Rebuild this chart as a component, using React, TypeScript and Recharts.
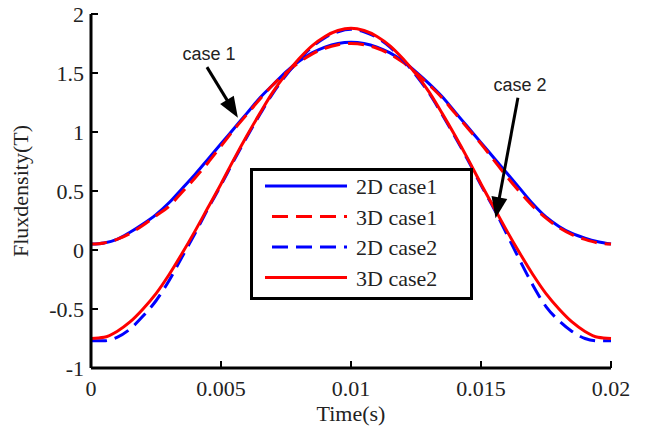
import React from "react";
import { LineChart, Line, XAxis, YAxis, Legend, ReferenceLine, Label } from "recharts";

// time samples (s)
const time = [
  0, 0.0005, 0.001, 0.0015, 0.002, 0.0025, 0.003, 0.0035, 0.004, 0.0045,
  0.005, 0.0055, 0.006, 0.0065, 0.007, 0.0075, 0.008, 0.0085, 0.009, 0.0095,
  0.01, 0.0105, 0.011, 0.0115, 0.012, 0.0125, 0.013, 0.0135, 0.014, 0.0145,
  0.015, 0.0155, 0.016, 0.0165, 0.017, 0.0175, 0.018, 0.0185, 0.019, 0.0195, 0.02,
];

// flux density (T)
const flux2dCase1 = [
  0.05, 0.06, 0.09, 0.15, 0.22, 0.30, 0.40, 0.52, 0.64, 0.77,
  0.90, 1.03, 1.16, 1.29, 1.40, 1.51, 1.60, 1.67, 1.72, 1.75,
  1.76, 1.75, 1.72, 1.67, 1.60, 1.51, 1.41, 1.30, 1.17, 1.04,
  0.91, 0.78, 0.65, 0.52, 0.39, 0.28, 0.20, 0.14, 0.10, 0.07, 0.05,
];
const flux3dCase1 = [
  0.05, 0.06, 0.09, 0.14, 0.21, 0.29, 0.37, 0.49, 0.61, 0.74,
  0.88, 1.02, 1.15, 1.28, 1.40, 1.50, 1.59, 1.66, 1.71, 1.74,
  1.75, 1.74, 1.71, 1.66, 1.59, 1.50, 1.40, 1.29, 1.16, 1.03,
  0.90, 0.76, 0.62, 0.49, 0.37, 0.27, 0.19, 0.13, 0.09, 0.06, 0.05,
];
const flux2dCase2 = [
  -0.77, -0.77, -0.74, -0.67, -0.56, -0.43, -0.26, -0.06, 0.14, 0.35,
  0.55, 0.76, 0.96, 1.15, 1.33, 1.48, 1.61, 1.72, 1.80, 1.85,
  1.87, 1.85, 1.80, 1.72, 1.61, 1.48, 1.33, 1.15, 0.96, 0.76,
  0.55, 0.35, 0.13, -0.09, -0.30, -0.48, -0.60, -0.69, -0.75, -0.77, -0.77,
];
const flux3dCase2 = [
  -0.75, -0.74, -0.69, -0.61, -0.50, -0.37, -0.21, -0.03, 0.16, 0.36,
  0.56, 0.77, 0.97, 1.16, 1.34, 1.49, 1.62, 1.73, 1.81, 1.86,
  1.88, 1.86, 1.81, 1.73, 1.62, 1.49, 1.34, 1.16, 0.97, 0.77,
  0.56, 0.36, 0.16, -0.03, -0.21, -0.37, -0.50, -0.61, -0.69, -0.74, -0.75,
];

const xTicks = [0, 0.005, 0.01, 0.015, 0.02];
const yTicks = [-1, -0.5, 0, 0.5, 1, 1.5, 2];

// annotation arrows: text, start point, tip point (data units)
const annotations = [
  { text: "case 1", from: { x: 0.00446, y: 1.55 }, to: { x: 0.00565, y: 1.12 } },
  { text: "case 2", from: { x: 0.01642, y: 1.29 }, to: { x: 0.01556, y: 0.27 } },
];

const series = [
  { key: "d2c1", name: "2D case1", color: "#0000ff", dash: undefined as string | undefined },
  { key: "d3c1", name: "3D case1", color: "#ff0000", dash: "16 8" },
  { key: "d2c2", name: "2D case2", color: "#0000ff", dash: "16 8" },
  { key: "d3c2", name: "3D case2", color: "#ff0000", dash: undefined },
];

const rows = time.map((t, i) => ({
  t,
  d2c1: flux2dCase1[i],
  d3c1: flux3dCase1[i],
  d2c2: flux2dCase2[i],
  d3c2: flux3dCase2[i],
}));

const SERIF = "'Liberation Serif', 'Times New Roman', serif";
const serifStyle = { fontFamily: SERIF, fontSize: 22 };

// plot-area bottom, used to place the x tick labels under the axis
const AXIS_Y = 368;

const renderXTick = (props: any) => {
  const { x, payload } = props;
  return (
    <text x={x} y={AXIS_Y + 28} textAnchor="middle" style={serifStyle} fill="#222">
      {String(payload.value)}
    </text>
  );
};

const renderYTick = (props: any) => {
  const { y, payload } = props;
  return (
    <text x={84} y={y + 8} textAnchor="end" style={serifStyle} fill="#222">
      {String(payload.value)}
    </text>
  );
};

const arrowShape = (text: string) => (props: any) => {
  const { x1, y1, x2, y2 } = props;
  const ang = Math.atan2(y2 - y1, x2 - x1);
  const c = Math.cos(ang);
  const s = Math.sin(ang);
  const len = 21;
  const half = 8;
  const bx = x2 - len * c;
  const by = y2 - len * s;
  const pts = `${x2},${y2} ${bx - s * half},${by + c * half} ${bx + s * half},${by - c * half}`;
  return (
    <g>
      <line x1={x1} y1={y1} x2={bx + 2 * c} y2={by + 2 * s} stroke="#000" strokeWidth={3} />
      <polygon points={pts} fill="#000" />
      <text
        x={x1 + 2}
        y={y1 - 7}
        textAnchor="middle"
        style={{ fontFamily: "'Liberation Sans', Arial, sans-serif", fontSize: 18 }}
        fill="#222"
      >
        {text}
      </text>
    </g>
  );
};

const LegendBox = () => (
  <div
    style={{
      width: 223,
      height: 132,
      border: "3px solid #000",
      boxSizing: "border-box",
      background: "#fff",
    }}
  >
    <svg width={217} height={126} style={{ display: "block" }}>
      {series.map((s, i) => {
        const y = 15 + i * 30.5;
        return (
          <g key={s.key}>
            <line
              x1={s.dash ? 19 : 12}
              x2={94}
              y1={y}
              y2={y}
              stroke={s.color}
              strokeWidth={3}
              strokeDasharray={s.dash}
            />
            <text x={103} y={y + 8} style={{ fontFamily: SERIF, fontSize: 22 }} fill="#222">
              {s.name}
            </text>
          </g>
        );
      })}
    </svg>
  </div>
);

export default function App() {
  return (
    <div style={{ position: "absolute", left: 0, top: 0, width: 647, height: 435, background: "#fff" }}>
      <LineChart width={647} height={435} data={rows} margin={{ top: 14, right: 36, left: 0, bottom: 0 }}>
        <XAxis
          dataKey="t"
          type="number"
          domain={[0, 0.02]}
          ticks={xTicks}
          height={67}
          tickSize={-7}
          tickMargin={36}
          axisLine={{ stroke: "#000", strokeWidth: 3 }}
          tickLine={{ stroke: "#000", strokeWidth: 2 }}
          tick={renderXTick}
        >
          <Label
            content={({ viewBox }: any) => (
              <text
                x={viewBox.x + viewBox.width / 2}
                y={AXIS_Y + 53}
                textAnchor="middle"
                style={{ fontFamily: SERIF, fontSize: 22 }}
                fill="#222"
              >
                Time(s)
              </text>
            )}
          />
        </XAxis>
        <YAxis
          type="number"
          domain={[-1, 2]}
          ticks={yTicks}
          width={91}
          tickSize={-7}
          tickMargin={15}
          axisLine={{ stroke: "#000", strokeWidth: 3 }}
          tickLine={{ stroke: "#000", strokeWidth: 2 }}
          tick={renderYTick}
        >
          <Label
            content={({ viewBox }: any) => {
              const cx = 28;
              const cy = viewBox.y + viewBox.height / 2;
              return (
                <text
                  x={cx}
                  y={cy}
                  transform={`rotate(-90 ${cx} ${cy})`}
                  textAnchor="middle"
                  style={{ fontFamily: SERIF, fontSize: 22 }}
                  fill="#222"
                >
                  Fluxdensity(T)
                </text>
              );
            }}
          />
        </YAxis>
        {series.map((s) => (
          <Line
            key={s.key}
            type="monotone"
            dataKey={s.key}
            name={s.name}
            stroke={s.color}
            strokeWidth={3}
            strokeDasharray={s.dash}
            dot={false}
            activeDot={false}
            isAnimationActive={false}
          />
        ))}
        {annotations.map((a) => (
          <ReferenceLine
            key={a.text}
            segment={[a.from, a.to]}
            shape={arrowShape(a.text)}
            ifOverflow="visible"
          />
        ))}
        <Legend
          layout="vertical"
          align="center"
          verticalAlign="middle"
          content={() => <LegendBox />}
          wrapperStyle={{ left: 250, top: 168, width: 223, height: 132 }}
        />
      </LineChart>
    </div>
  );
}
